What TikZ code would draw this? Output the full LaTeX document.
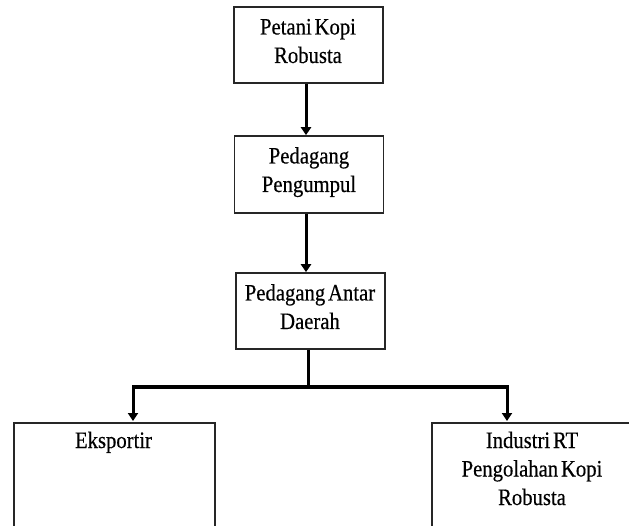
\documentclass[tikz,border=0pt]{standalone}
\usepackage{fontspec}
\setmainfont[FakeStretch=0.88,WordSpace=0.55,UprightFeatures={FakeBold=0.4}]{Liberation Serif}
\usetikzlibrary{arrows.meta}
\begin{document}
\begin{tikzpicture}[x=1pt,y=-1pt,
  box/.style={draw=black!85,line width=1.6pt,minimum width=149pt,minimum height=76pt,inner sep=0pt},
  lbl/.style={inner sep=0pt,align=center,anchor=base,font=\fontsize{23.5}{28.5}\selectfont},
  conn/.style={line width=3pt,black},
  arr/.style={conn,-{Triangle[length=8pt,width=10pt]}}]
\useasboundingbox (0,0) rectangle (629,526);
\clip (0,0) rectangle (629,526);
\node[box] (b1) at (308.5,45) {};
\node[box,minimum height=77pt] (b2) at (309,174.5) {};
\node[box] (b3) at (310.5,311) {};
\node[box,minimum width=201pt,minimum height=140pt,anchor=north west] (b4) at (13,422) {};
\node[box,minimum width=202pt,minimum height=140pt,anchor=north west] (b5) at (431,422) {};
\node[lbl] (t1) at (308,63) {Petani Kopi\\Robusta};
\node[lbl] (t2) at (309,192) {Pedagang\\Pengumpul};
\node[lbl] (t3) at (310,329) {Pedagang Antar\\Daerah};
\node[lbl] (t4) at (113.5,448) {Eksportir};
\node[lbl] (t5) at (532,505) {Industri RT\\Pengolahan Kopi\\Robusta};
\coordinate (j) at (308,387);
\coordinate (ea) at (133,421);
\coordinate (ia) at (507,421);
\draw[arr] (b1.south -| 306,0) -- (b2.north -| 306,0);
\draw[arr] (b2.south -| 306,0) -- (b3.north -| 306,0);
\draw[conn] (b3.south -| 308,0) -- (j);
\draw[arr] (j) -| (ea);
\draw[arr] (j) -| (ia);
\end{tikzpicture}
\end{document}
